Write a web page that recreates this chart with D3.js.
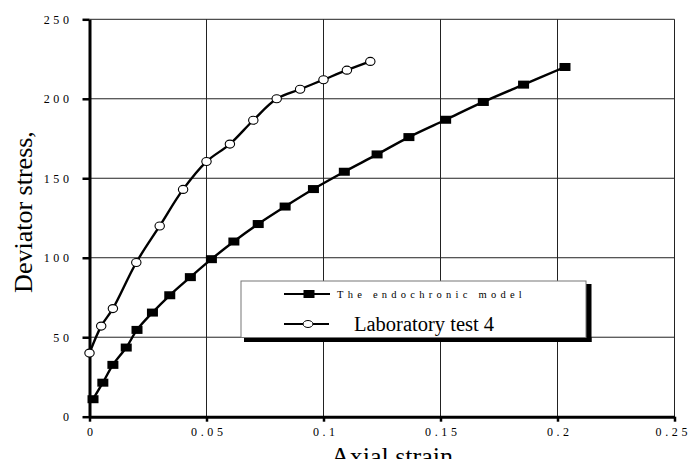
<!DOCTYPE html>
<html>
<head>
<meta charset="utf-8">
<script src="https://cdn.jsdelivr.net/npm/d3@7"></script>
<style>
  body { margin: 0; background: #fff; }
  svg { display: block; font-family: "Liberation Serif", "Times New Roman", serif; }
</style>
</head>
<body>
<svg id="chart" width="691" height="459"></svg>
<script>
// data
const modelStrain = [0.0015, 0.0057, 0.0100, 0.0157, 0.0203, 0.0269, 0.0343, 0.0431, 0.0521, 0.0617, 0.0721, 0.0836, 0.0957, 0.1089, 0.1229, 0.1365, 0.1522, 0.1683, 0.1855, 0.2032];
const modelStress = [11, 21.4, 32.6, 43.5, 54.6, 65.5, 76.4, 87.8, 99.1, 110.2, 121.2, 132.2, 143.2, 154.1, 165, 175.9, 186.8, 198, 208.9, 220];
const labStrain = [0, 0.005, 0.01, 0.02, 0.03, 0.04, 0.05, 0.06, 0.07, 0.08, 0.09, 0.1, 0.11, 0.12];
const labStress = [40, 57, 68, 97, 120, 143, 160.5, 171.5, 186.5, 200, 206, 212, 218, 223.5];
const xTicks = [0, 0.05, 0.1, 0.15, 0.2, 0.25];
const yTicks = [0, 50, 100, 150, 200, 250];
const seriesNames = ["The endochronic model", "Laboratory test 4"];

const svg = d3.select("#chart");
svg.append("rect").attr("width", 691).attr("height", 459).attr("fill", "#fff");

const x = d3.scaleLinear().domain([0, 0.25]).range([89.5, 674.5]);
const y = d3.scaleLinear().domain([0, 250]).range([416.7, 19.3]);

// grid
const grid = svg.append("g").attr("stroke", "#222").attr("stroke-width", 1);
grid.selectAll("line.h")
  .data(yTicks.slice(1))
  .enter().append("line")
  .attr("x1", x(0)).attr("x2", x(0.25))
  .attr("y1", d => y(d)).attr("y2", d => y(d));
grid.selectAll("line.v")
  .data(xTicks.slice(1))
  .enter().append("line")
  .attr("x1", d => x(d)).attr("x2", d => x(d))
  .attr("y1", y(0)).attr("y2", y(250));

// axes
const xAxis = svg.append("g")
  .attr("transform", `translate(0,${y(0)})`)
  .call(d3.axisBottom(x).tickValues(xTicks).tickFormat(d => String(d)).tickSize(5).tickPadding(6).tickSizeOuter(0));
const yAxis = svg.append("g")
  .attr("transform", `translate(${x(0)},0)`)
  .call(d3.axisLeft(y).tickValues(yTicks).tickFormat(d => String(d)).tickSize(7).tickPadding(10).tickSizeOuter(0));

[xAxis, yAxis].forEach(a => {
  a.select(".domain").attr("stroke", "#000").attr("stroke-width", 3);
  a.selectAll(".tick line").attr("stroke", "#000").attr("stroke-width", 2.5);
  a.selectAll(".tick text")
    .attr("fill", "#000")
    .style("font-family", "Liberation Serif, serif")
    .style("font-size", "12px")
    .style("letter-spacing", "3.6px");
});
xAxis.selectAll(".tick text").attr("dx", 1.8);
// last x label sits against the right edge
xAxis.selectAll(".tick text").filter(d => d === 0.25).attr("text-anchor", "end").attr("dx", 16);

// axis titles
svg.append("text")
  .attr("x", 392).attr("y", 465)
  .attr("text-anchor", "middle")
  .style("font-size", "26px")
  .text("Axial strain");
svg.append("text")
  .attr("transform", "translate(32,212) rotate(-90)")
  .attr("text-anchor", "middle")
  .style("font-size", "26px")
  .text("Deviator stress,");

// series
const line = d3.line().x(d => x(d[0])).y(d => y(d[1])).curve(d3.curveCatmullRom.alpha(0.5));
const modelPts = modelStrain.map((v, i) => [v, modelStress[i]]);
const labPts = labStrain.map((v, i) => [v, labStress[i]]);

svg.append("path").datum(labPts).attr("d", line)
  .attr("fill", "none").attr("stroke", "#000").attr("stroke-width", 2.4);
svg.append("path").datum(modelPts).attr("d", line)
  .attr("fill", "none").attr("stroke", "#000").attr("stroke-width", 2.4);

svg.selectAll("rect.sq")
  .data(modelPts)
  .enter().append("rect")
  .attr("x", d => x(d[0]) - 5.5).attr("y", d => y(d[1]) - 4)
  .attr("width", 11).attr("height", 8)
  .attr("fill", "#000");

svg.selectAll("ellipse.ci")
  .data(labPts)
  .enter().append("ellipse")
  .attr("cx", d => x(d[0])).attr("cy", d => y(d[1]))
  .attr("rx", 4.7).attr("ry", 4)
  .attr("fill", "#fff").attr("stroke", "#000").attr("stroke-width", 1.1);

// legend
const lg = svg.append("g");
lg.append("rect").attr("x", 586).attr("y", 284).attr("width", 5.5).attr("height", 58).attr("fill", "#000");
lg.append("rect").attr("x", 244).attr("y", 337.5).attr("width", 347.5).attr("height", 4.5).attr("fill", "#000");
lg.append("rect").attr("x", 241).attr("y", 281).attr("width", 345).attr("height", 56.5)
  .attr("fill", "#fff").attr("stroke", "#777").attr("stroke-width", 1);

lg.append("line").attr("x1", 284).attr("x2", 330).attr("y1", 294).attr("y2", 294)
  .attr("stroke", "#000").attr("stroke-width", 2);
lg.append("rect").attr("x", 303.5).attr("y", 290).attr("width", 11).attr("height", 8).attr("fill", "#000");
lg.append("text").attr("x", 337).attr("y", 297.5)
  .style("font-size", "10.5px").style("letter-spacing", "4.25px")
  .text(seriesNames[0]);

lg.append("line").attr("x1", 284).attr("x2", 329).attr("y1", 324).attr("y2", 324)
  .attr("stroke", "#000").attr("stroke-width", 2);
lg.append("ellipse").attr("cx", 308).attr("cy", 324).attr("rx", 5).attr("ry", 3.5)
  .attr("fill", "#fff").attr("stroke", "#000").attr("stroke-width", 1);
lg.append("text").attr("x", 354).attr("y", 330.5)
  .style("font-size", "20.5px")
  .text(seriesNames[1]);
</script>
</body>
</html>
